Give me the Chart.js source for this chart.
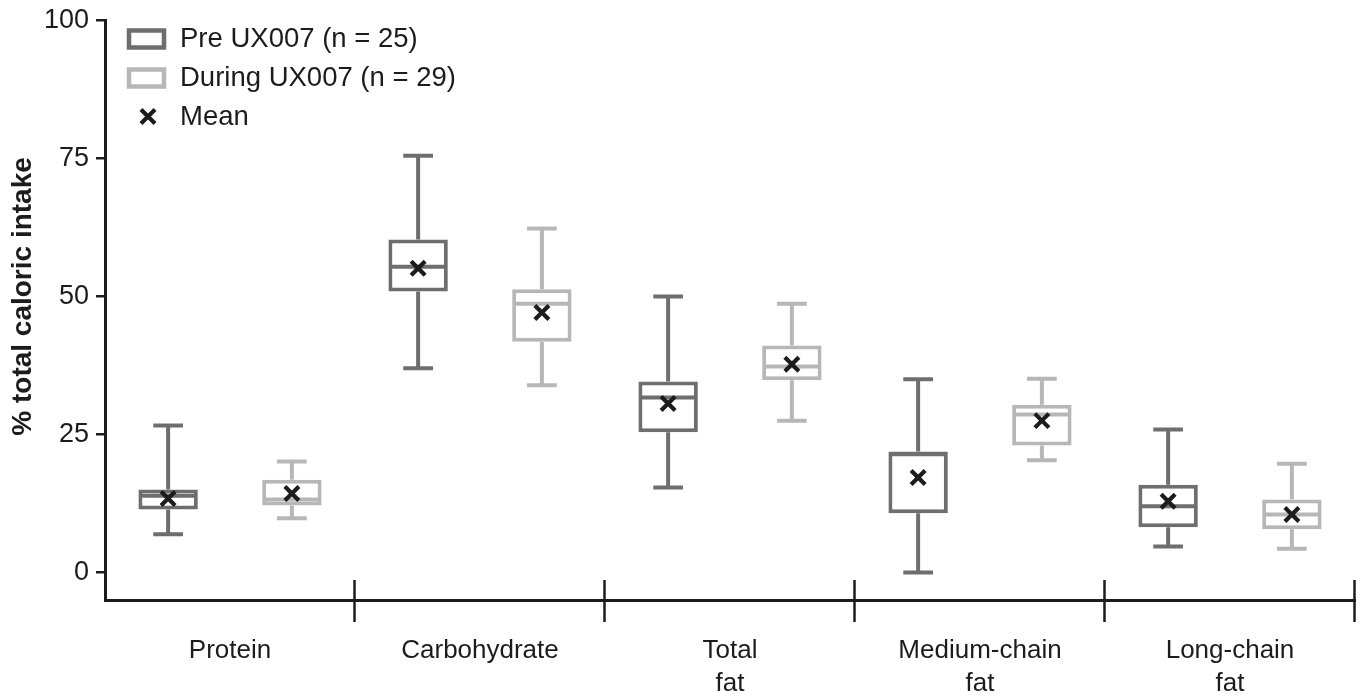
<!DOCTYPE html>
<html>
<head>
<meta charset="utf-8">
<title>Caloric intake</title>
<script src="https://cdn.jsdelivr.net/npm/chart.js@4.4.1/dist/chart.umd.min.js"></script>
<style>
  html, body { margin: 0; padding: 0; background: #fff; }
  #wrap { width: 1361px; height: 696px; }
</style>
</head>
<body>
<div id="wrap"><canvas id="boxChart"></canvas></div>
<script>
const categories = ["Protein", "Carbohydrate", ["Total", "fat"], ["Medium-chain", "fat"], ["Long-chain", "fat"]];
const yTicks = [0, 25, 50, 75, 100];
const yTitle = "% total caloric intake";
const legendLabels = ["Pre UX007 (n = 25)", "During UX007 (n = 29)", "Mean"];

// Pre UX007
const preMin = [6.9, 37.0, 15.4, 0.0, 4.7];
const preQ1 = [11.4, 50.9, 25.4, 10.7, 8.2];
const preMedian = [13.9, 55.4, 31.7, 21.4, 12.0];
const preQ3 = [15.0, 60.3, 34.6, 21.9, 15.9];
const preMax = [26.6, 75.5, 50.0, 35.0, 25.9];
const preMean = [13.4, 55.1, 30.6, 17.2, 12.9];

// During UX007
const duringMin = [9.8, 33.9, 27.5, 20.3, 4.3];
const duringQ1 = [12.1, 41.8, 34.8, 23.0, 7.8];
const duringMedian = [13.2, 48.7, 37.3, 28.6, 10.5];
const duringQ3 = [16.8, 51.3, 41.1, 30.4, 13.2];
const duringMax = [20.1, 62.3, 48.7, 35.1, 19.7];
const duringMean = [14.3, 47.1, 37.7, 27.5, 10.5];

const preColor = "#6e6e6e";
const duringColor = "#b7b7b7";
const inkColor = "#1c1c1c";
const fontFamily = '"Liberation Sans", Arial, Helvetica, sans-serif';

const stats = [
    { min: preMin, median: preMedian, max: preMax, mean: preMean },
    { min: duringMin, median: duringMedian, max: duringMax, mean: duringMean }
];

function drawCross(ctx, x, y, r) {
    ctx.beginPath();
    ctx.moveTo(x - r, y - r);
    ctx.lineTo(x + r, y + r);
    ctx.moveTo(x + r, y - r);
    ctx.lineTo(x - r, y + r);
    ctx.stroke();
}

// whiskers, medians and means on top of the floating-bar boxes
const boxExtras = {
    id: "boxExtras",
    afterDatasetsDraw(chart) {
        const ctx = chart.ctx;
        const y = chart.scales.y;
        ctx.save();
        ctx.lineCap = "butt";
        stats.forEach((s, d) => {
            const meta = chart.getDatasetMeta(d);
            const color = chart.data.datasets[d].borderColor;
            meta.data.forEach((bar, i) => {
                const props = bar.getProps(["x", "y", "base", "width"], true);
                const x = props.x;
                const half = props.width / 2;
                const top = Math.min(props.y, props.base);
                const bottom = Math.max(props.y, props.base);
                const yMax = y.getPixelForValue(s.max[i]);
                const yMin = y.getPixelForValue(s.min[i]);
                ctx.strokeStyle = color;
                ctx.lineWidth = 4;
                ctx.beginPath();
                ctx.moveTo(x, top);
                ctx.lineTo(x, yMax);
                ctx.moveTo(x, bottom);
                ctx.lineTo(x, yMin);
                ctx.moveTo(x - half / 2, yMax);
                ctx.lineTo(x + half / 2, yMax);
                ctx.moveTo(x - half / 2, yMin);
                ctx.lineTo(x + half / 2, yMin);
                const yMed = y.getPixelForValue(s.median[i]);
                ctx.moveTo(x - half + 2, yMed);
                ctx.lineTo(x + half - 2, yMed);
                ctx.stroke();

                ctx.strokeStyle = inkColor;
                ctx.lineWidth = 4.2;
                drawCross(ctx, x, y.getPixelForValue(s.mean[i]), 7);
            });
        });
        ctx.restore();
    },
    afterDraw(chart) {
        const ctx = chart.ctx;
        const x = chart.scales.x;
        const y = chart.scales.y;
        const area = chart.chartArea;
        ctx.save();
        // category separators crossing the x axis
        ctx.strokeStyle = inkColor;
        ctx.lineWidth = 2.5;
        ctx.beginPath();
        for (let i = 0; i < categories.length; i++) {
            const px = Math.round(x.getPixelForValue(i + 0.5)) - 0.5;
            ctx.moveTo(px, area.bottom - 20);
            ctx.lineTo(px, area.bottom + 22);
        }
        ctx.stroke();

        // y axis title, centred on the 0-100 range
        ctx.save();
        ctx.translate(23, (y.getPixelForValue(yTicks[0]) + y.getPixelForValue(yTicks[yTicks.length - 1])) / 2);
        ctx.rotate(-Math.PI / 2);
        ctx.font = "bold 28px " + fontFamily;
        ctx.textAlign = "center";
        ctx.textBaseline = "middle";
        ctx.fillStyle = inkColor;
        ctx.fillText(yTitle, 0, 0);
        ctx.restore();

        // legend
        const lx = area.left + 24;
        const rows = [area.top + 18, area.top + 57, area.top + 96];
        ctx.font = "27.5px " + fontFamily;
        ctx.textBaseline = "middle";
        ctx.fillStyle = inkColor;
        [preColor, duringColor].forEach((c, k) => {
            ctx.strokeStyle = c;
            ctx.lineWidth = 4.5;
            ctx.strokeRect(lx, rows[k] - 8, 35, 17);
        });
        ctx.strokeStyle = inkColor;
        ctx.lineWidth = 4.2;
        drawCross(ctx, lx + 19, rows[2], 7);
        legendLabels.forEach((t, k) => {
            ctx.fillText(t, lx + 51, rows[k] + 1);
        });
        ctx.restore();
    }
};

new Chart(document.getElementById("boxChart"), {
    type: "bar",
    data: {
        labels: categories,
        datasets: [
            {
                label: legendLabels[0],
                data: preQ1.map((v, i) => [v, preQ3[i]]),
                backgroundColor: "#ffffff",
                borderColor: preColor,
                borderWidth: 4,
                borderSkipped: false
            },
            {
                label: legendLabels[1],
                data: duringQ1.map((v, i) => [v, duringQ3[i]]),
                backgroundColor: "#ffffff",
                borderColor: duringColor,
                borderWidth: 4,
                borderSkipped: false
            }
        ]
    },
    options: {
        responsive: true,
        maintainAspectRatio: false,
        animation: false,
        categoryPercentage: 0.99,
        barPercentage: 0.48,
        layout: { padding: { top: 20, right: 6, left: 0, bottom: 0 } },
        plugins: {
            legend: { display: false },
            tooltip: { enabled: false }
        },
        scales: {
            x: {
                grid: { display: false, drawTicks: false },
                border: { display: true, color: inkColor, width: 3 },
                ticks: {
                    color: inkColor,
                    padding: 34,
                    maxRotation: 0,
                    font: { size: 26, family: fontFamily, lineHeight: 1.27 }
                },
                afterFit(scale) { scale.height = 96; }
            },
            y: {
                min: -5,
                max: 100,
                afterBuildTicks(scale) {
                    scale.ticks = yTicks.map(v => ({ value: v }));
                },
                grid: {
                    drawOnChartArea: false,
                    drawTicks: true,
                    tickLength: 9,
                    color: inkColor,
                    lineWidth: 2.5
                },
                border: { display: true, color: inkColor, width: 3 },
                ticks: {
                    color: inkColor,
                    padding: 7,
                    font: { size: 27, family: fontFamily, lineHeight: 1 }
                },
                afterFit(scale) { scale.width = 105; }
            }
        }
    },
    plugins: [boxExtras]
});
</script>
</body>
</html>
